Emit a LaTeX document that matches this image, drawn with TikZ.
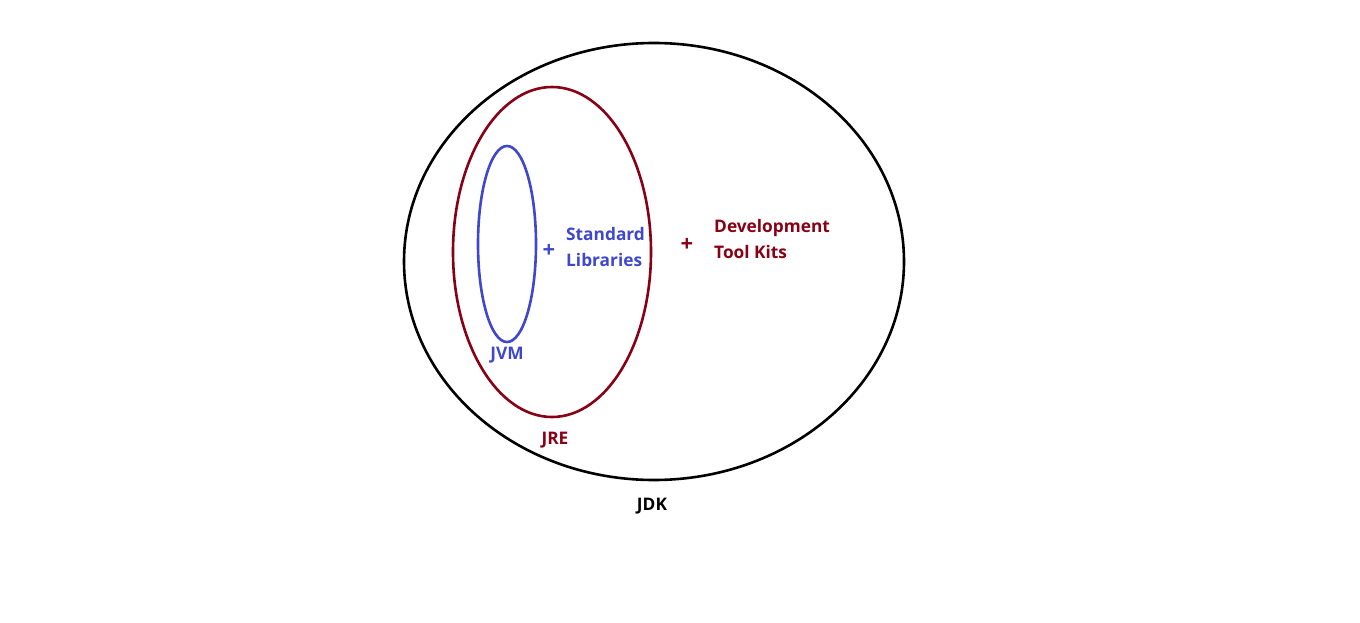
\documentclass[tikz,border=0pt]{standalone}
\usepackage{fontspec}
\usetikzlibrary{shapes.geometric}
\setmainfont{Open Sans}
\definecolor{jblue}{HTML}{3F48CC}
\definecolor{jred}{HTML}{880015}
\begin{document}
\begin{tikzpicture}[x=1pt,y=-1pt,
  ring/.style={line width=2.6pt, ellipse, inner sep=0pt},
  lbl/.style={font=\fontsize{17.3}{26}\selectfont\bfseries, inner sep=0pt},
  lblL/.style={lbl, align=left, anchor=west},
  plus/.style={font=\fontsize{22}{26}\selectfont\bfseries, inner sep=0pt}]
\useasboundingbox (0,0) rectangle (1360,623);
\fill[white] (0,0) rectangle (1360,623);
\node[ring, draw=black, minimum width=500pt, minimum height=437pt] (jdk) at (654,261.5) {};
\node[ring, draw=jred, minimum width=198pt, minimum height=330pt] (jre) at (552,252) {};
\node[ring, draw=jblue, minimum width=58pt, minimum height=196pt] (jvm) at (507,244) {};
\node[plus, text=jblue] (plus1) at (549,250.5) {+};
\node[lblL, text=jblue] (stdlib) at (566,247.5) {Standard\\Libraries};
\node[plus, text=jred] (plus2) at (687,244.5) {+};
\node[lblL, text=jred] (devkit) at (714,239.5) {Development\\Tool Kits};
\node[lbl, text=jblue] (jvmlbl) at (507,355.5) {JVM};
\node[lbl, text=jred] (jrelbl) at (555,440.5) {JRE};
\node[lbl, text=black] (jdklbl) at (652,506.5) {JDK};
\end{tikzpicture}
\end{document}
